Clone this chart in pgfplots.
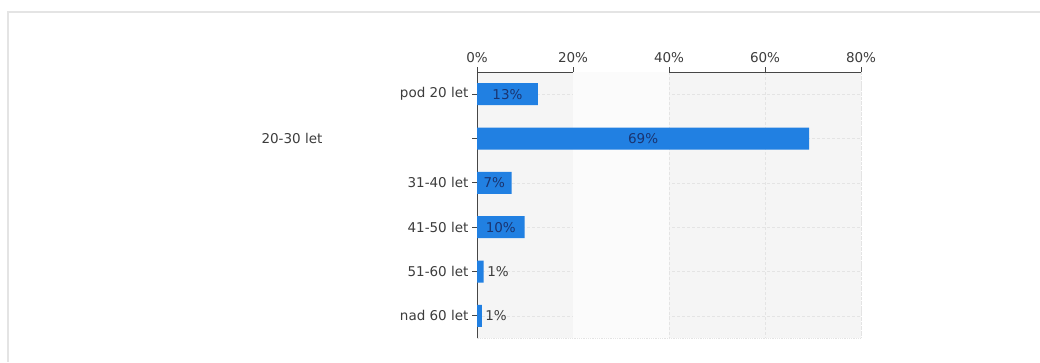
\documentclass[border=0pt]{standalone}
\usepackage{fontspec}
\setmainfont{DejaVu Sans}
\usepackage{pgfplots}
\pgfplotsset{compat=1.18}

\definecolor{barblue}{RGB}{33,128,226}
\definecolor{barlabel}{RGB}{26,52,112}
\definecolor{axisgray}{RGB}{70,70,70}
\definecolor{textgray}{RGB}{60,60,60}
\definecolor{framegray}{RGB}{228,228,228}
\definecolor{plotbg}{RGB}{245,245,245}
\definecolor{gridgray}{RGB}{228,228,228}

\pgfplotstableread{
pos share
0 12.7
1 69.2
2 7.2
3 9.9
}\inside
\pgfplotstableread{
pos share
4 1.4
5 1.0
}\outside

\begin{document}
\begin{tikzpicture}
\useasboundingbox (0pt,0pt) rectangle (1040pt,362pt);
% outer frame
\draw[framegray,line width=2pt] (7.5pt,0pt) -- (7.5pt,349.5pt) -- (1040pt,349.5pt);

\begin{axis}[
  at={(477pt,290pt)}, anchor=north west,
  scale only axis, width=384pt, height=266pt,
  xbar, bar width=22pt, bar shift=0pt,
  xmin=0, xmax=80,
  ymin=-0.5, ymax=5.5, y dir=reverse,
  axis x line*=top, axis y line*=left,
  axis line style={axisgray, line width=0.9pt},
  tick align=outside, major tick length=5pt,
  tick style={axisgray, line width=0.7pt},
  xtick={0,20,40,60,80},
  xticklabels={0\%,20\%,40\%,60\%,80\%},
  ytick={0,1,2,3,4,5},
  yticklabels={pod 20 let,,31-40 let,41-50 let,51-60 let,nad 60 let},
  ticklabel style={font=\fontsize{13.5}{15}\selectfont, text=textgray},
  xticklabel style={yshift=1pt},
  xmajorgrids, ymajorgrids,
  grid style={gridgray, densely dashed, line width=0.6pt},
  axis background/.style={fill=plotbg},
  /pgf/number format/assume math mode=true,
  point meta=x,
  nodes near coords={\pgfmathprintnumber[fixed,precision=0]{\pgfplotspointmeta}\%},
  nodes near coords style={font=\fontsize{13.5}{15}\selectfont},
  clip=false,
]
% lighter band between 20 % and 40 %
\fill[white!60!plotbg] (axis cs:20,-0.5) rectangle (axis cs:40,5.5);
% right and bottom borders of the plot area
\draw[gridgray, densely dotted, line width=0.8pt]
  (rel axis cs:1,1) -- (rel axis cs:1,0) -- (rel axis cs:0,0);

\addplot[fill=barblue, draw=none,
  visualization depends on={x \as \rawx},
  every node near coord/.append style={text=barlabel, anchor=center,
    shift={(axis direction cs:-\rawx/2,0)}}]
  table[x=share, y=pos] {\inside};
\addplot[fill=barblue, draw=none,
  every node near coord/.append style={text=textgray, anchor=west}]
  table[x=share, y=pos] {\outside};

% label of the second category, set apart to the left
\node[font=\fontsize{13.5}{15}\selectfont, text=textgray]
  at (axis cs:0,1) [xshift=-185pt] {20-30 let};
\end{axis}
\end{tikzpicture}
\end{document}
